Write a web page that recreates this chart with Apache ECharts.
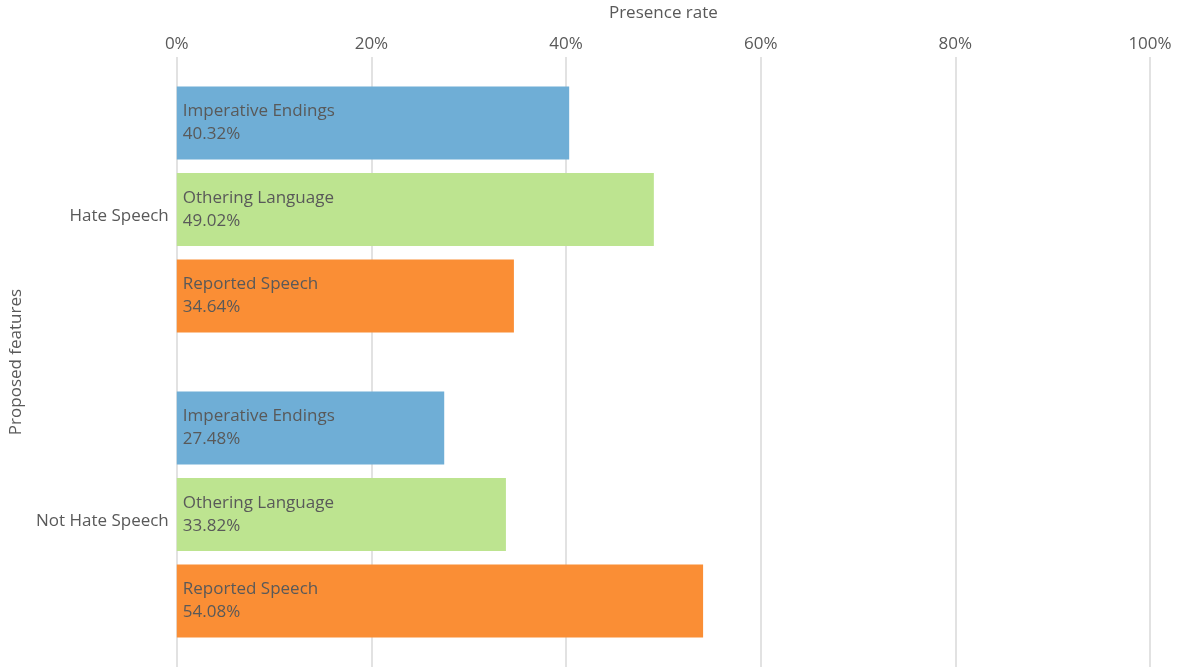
<!DOCTYPE html>
<html>
<head>
<meta charset="utf-8">
<script src="https://cdn.jsdelivr.net/npm/echarts@6/dist/echarts.min.js"></script>
<style>
  html, body { margin: 0; padding: 0; background: #fff; }
  #chart { width: 1186px; height: 670px; }
</style>
</head>
<body>
<div id="chart"></div>
<script>
// Presence rate (%) of each proposed feature, per class
const categories = ['Hate Speech', 'Not Hate Speech'];
const seriesNames = ['Imperative Endings', 'Othering Language', 'Reported Speech'];
const imperativeEndings = [40.32, 27.48];
const otheringLanguage = [49.02, 33.82];
const reportedSpeech = [34.64, 54.08];
const xTicks = [0, 20, 40, 60, 80, 100];

const colors = ['#6faed6', '#bde490', '#fa8e35'];
const textColor = '#595959';
const font = 'Open Sans';

const seriesData = [imperativeEndings, otheringLanguage, reportedSpeech];

const chart = echarts.init(document.getElementById('chart'), null, { renderer: 'canvas' });

chart.setOption({
  animation: false,
  textStyle: { fontFamily: font },
  grid: { left: 176, right: 36, top: 57, bottom: 3 },
  xAxis: {
    type: 'value',
    position: 'top',
    min: xTicks[0],
    max: xTicks[xTicks.length - 1],
    interval: xTicks[1] - xTicks[0],
    name: 'Presence rate',
    nameLocation: 'middle',
    nameGap: 35,
    nameTextStyle: { color: textColor, fontSize: 17, fontFamily: font },
    axisLine: { show: false },
    axisTick: { show: false },
    axisLabel: {
      color: textColor, fontSize: 17, fontFamily: font, margin: 4,
      formatter: v => v + '%'
    },
    splitLine: { show: true, lineStyle: { color: '#d9d9d9', width: 1.5 } }
  },
  yAxis: {
    type: 'category',
    inverse: true,
    data: categories,
    name: 'Proposed features',
    nameLocation: 'middle',
    nameGap: 149,
    nameRotate: 90,
    nameTextStyle: { color: textColor, fontSize: 17, fontFamily: font },
    axisLine: { show: false },
    axisTick: { show: false },
    axisLabel: {
      color: textColor, fontSize: 17, fontFamily: font, margin: 8,
      lineHeight: 13,
      // blank first line drops the category name a little below the band centre
      formatter: v => '\n' + v
    },
    splitLine: { show: false }
  },
  series: seriesNames.map((name, i) => ({
    name: name,
    type: 'bar',
    data: seriesData[i],
    barWidth: 73,
    barGap: '18.5%',
    itemStyle: { color: colors[i] },
    label: {
      show: true,
      position: 'insideLeft',
      distance: 6,
      color: textColor,
      fontSize: 17,
      fontFamily: font,
      lineHeight: 23,
      formatter: p => p.seriesName + '\n' + p.value.toFixed(2) + '%'
    }
  }))
});
</script>
</body>
</html>
